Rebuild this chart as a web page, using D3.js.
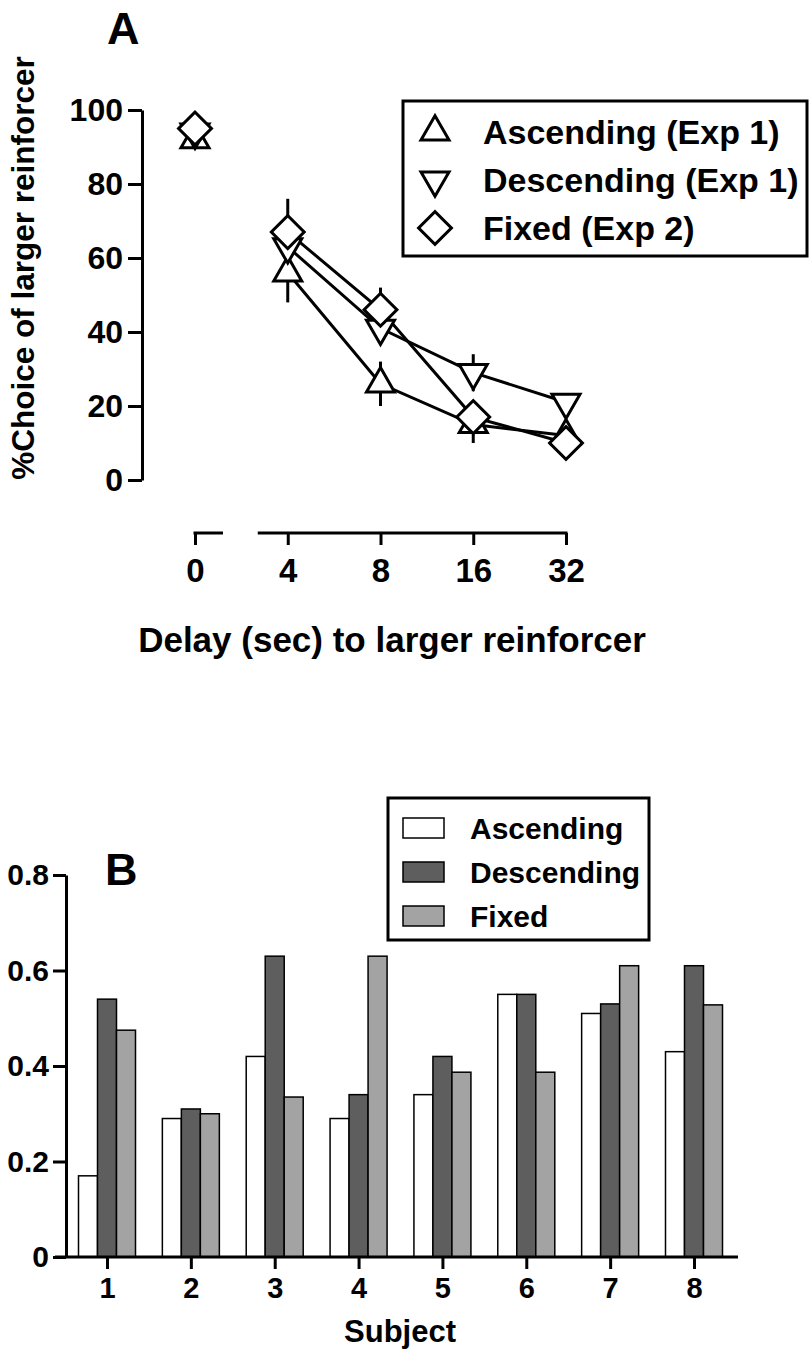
<!DOCTYPE html>
<html>
<head>
<meta charset="utf-8">
<script src="https://cdn.jsdelivr.net/npm/d3@7"></script>
<style>
  body { margin: 0; background: #fff; }
  svg text { font-family: "Liberation Sans", Arial, sans-serif; font-weight: bold; fill: #000; }
</style>
</head>
<body>
<div id="chart"></div>
<script>
// Panel A data
var delays = ["0", "4", "8", "16", "32"];
var ascMean = [92, 56, 26, 15, 12];
var ascErr = [2, 8, 6, 5, 2];
var descMean = [94, 63, 41, 29, 21];
var descErr = [2, 6, 4, 5, 2];
var fixMean = [95, 67, 46, 17, 10];
var fixErr = [1, 9, 6, 3, 1];
var yTicksA = [0, 20, 40, 60, 80, 100];
var seriesA = ["Ascending (Exp 1)", "Descending (Exp 1)", "Fixed (Exp 2)"];

// Panel B data
var subjects = ["1", "2", "3", "4", "5", "6", "7", "8"];
var ascending = [0.17, 0.29, 0.42, 0.29, 0.34, 0.55, 0.51, 0.43];
var descending = [0.54, 0.31, 0.63, 0.34, 0.42, 0.55, 0.53, 0.61];
var fixed = [0.475, 0.30, 0.335, 0.63, 0.387, 0.387, 0.61, 0.528];
var yTicksB = [0, 0.2, 0.4, 0.6, 0.8];
var seriesB = ["Ascending", "Descending", "Fixed"];

var w = 809;
var h = 1351;

var svg = d3.select("#chart")
	.append("svg")
	.attr("width", w)
	.attr("height", h);

//==================== Panel A ====================
var xA = d3.scalePoint().domain(delays).range([195, 566]);
var yA = d3.scaleLinear().domain([0, 100]).range([480, 110]);

var gA = svg.append("g");

// y axis
var yAxisA = gA.append("g")
	.attr("transform", "translate(142,0)")
	.call(d3.axisLeft(yA).tickValues(yTicksA).tickSize(14).tickSizeOuter(0).tickPadding(5));
yAxisA.select(".domain").attr("stroke-width", 3);
yAxisA.selectAll(".tick line").attr("stroke-width", 3);
yAxisA.selectAll(".tick text").style("font-size", "32px");

// x axis (broken)
var xAxisA = gA.append("g")
	.attr("transform", "translate(0,533)")
	.call(d3.axisBottom(xA).tickSize(12).tickPadding(14));
xAxisA.select(".domain").remove();
xAxisA.selectAll(".tick line").attr("stroke-width", 3);
xAxisA.selectAll(".tick text").style("font-size", "33px");
gA.append("line")
	.attr("x1", xA("0") - 1.5).attr("x2", xA("0") + 28)
	.attr("y1", 533).attr("y2", 533)
	.attr("stroke", "#000").attr("stroke-width", 3);
gA.append("line")
	.attr("x1", xA("4") - 30).attr("x2", xA("32") + 1.5)
	.attr("y1", 533).attr("y2", 533)
	.attr("stroke", "#000").attr("stroke-width", 3);

// axis labels
gA.append("text")
	.attr("transform", "translate(34,268) rotate(-90)")
	.attr("text-anchor", "middle")
	.style("font-size", "31.5px")
	.text("%Choice of larger reinforcer");
gA.append("text")
	.attr("x", 392).attr("y", 652)
	.attr("text-anchor", "middle")
	.style("font-size", "35px")
	.text("Delay (sec) to larger reinforcer");
gA.append("text")
	.attr("x", 107).attr("y", 44)
	.style("font-size", "45px")
	.text("A");

var triUp = d3.symbol().type(d3.symbolTriangle).size(340);
var diamond = d3.symbol().type(d3.symbolSquare).size(540);

var dataA = [
	{ mean: ascMean, err: ascErr, shape: "up" },
	{ mean: descMean, err: descErr, shape: "down" },
	{ mean: fixMean, err: fixErr, shape: "diamond" }
];

function markerPath(shape) {
	return shape == "diamond" ? diamond() : triUp();
}
function markerRot(shape) {
	if (shape == "down") return " rotate(180)";
	if (shape == "diamond") return " rotate(45)";
	return "";
}

var line = d3.line()
	.x(function (d) { return xA(d.x); })
	.y(function (d) { return yA(d.y); });

// connecting lines (delay 4 to 32 only)
dataA.forEach(function (s) {
	var pts = delays.slice(1).map(function (d, i) {
		return { x: d, y: s.mean[i + 1] };
	});
	gA.append("path")
		.attr("d", line(pts))
		.attr("fill", "none")
		.attr("stroke", "#000")
		.attr("stroke-width", 3);
});

// error bars + markers
dataA.forEach(function (s) {
	var g = gA.append("g");
	g.selectAll("line.err")
		.data(delays)
		.enter()
		.append("line")
		.attr("class", "err")
		.attr("x1", function (d) { return xA(d); })
		.attr("x2", function (d) { return xA(d); })
		.attr("y1", function (d, i) { return yA(s.mean[i] - s.err[i]); })
		.attr("y2", function (d, i) { return yA(s.mean[i] + s.err[i]); })
		.attr("stroke", "#000")
		.attr("stroke-width", 3);
});
dataA.forEach(function (s) {
	gA.append("g").selectAll("path")
		.data(delays)
		.enter()
		.append("path")
		.attr("d", markerPath(s.shape))
		.attr("transform", function (d, i) {
			return "translate(" + xA(d) + "," + yA(s.mean[i]) + ")" + markerRot(s.shape);
		})
		.attr("fill", "#fff")
		.attr("stroke", "#000")
		.attr("stroke-width", 3);
});

// legend A
var legA = gA.append("g");
legA.append("rect")
	.attr("x", 403).attr("y", 101)
	.attr("width", 404).attr("height", 155)
	.attr("fill", "#fff").attr("stroke", "#000").attr("stroke-width", 3);
var legRowsA = legA.selectAll("g.row")
	.data(dataA)
	.enter()
	.append("g")
	.attr("class", "row")
	.attr("transform", function (d, i) { return "translate(0," + (132 + i * 48) + ")"; });
legRowsA.append("path")
	.attr("d", function (d) { return markerPath(d.shape); })
	.attr("transform", function (d) { return "translate(435,0)" + markerRot(d.shape); })
	.attr("fill", "#fff")
	.attr("stroke", "#000")
	.attr("stroke-width", 3);
legRowsA.append("text")
	.attr("x", 483)
	.attr("dy", "0.36em")
	.style("font-size", "34px")
	.text(function (d, i) { return seriesA[i]; });

//==================== Panel B ====================
var xB = d3.scalePoint().domain(subjects).range([107, 694]);
var xSub = d3.scaleBand().domain(seriesB).range([-28.5, 28.5]);
var yB = d3.scaleLinear().domain([0, 0.8]).range([1257, 875]);
var colorB = d3.scaleOrdinal().domain(seriesB).range(["#ffffff", "#5e5e5e", "#a3a3a3"]);
var valuesB = [ascending, descending, fixed];

var gB = svg.append("g");

// bars
var groups = gB.selectAll("g.subj")
	.data(subjects)
	.enter()
	.append("g")
	.attr("class", "subj")
	.attr("transform", function (d) { return "translate(" + xB(d) + ",0)"; });
groups.selectAll("rect")
	.data(function (d, i) {
		return seriesB.map(function (s, j) { return { key: s, value: valuesB[j][i] }; });
	})
	.enter()
	.append("rect")
	.attr("x", function (d) { return xSub(d.key); })
	.attr("width", xSub.bandwidth())
	.attr("y", function (d) { return yB(d.value); })
	.attr("height", function (d) { return yB(0) - yB(d.value); })
	.attr("fill", function (d) { return colorB(d.key); })
	.attr("stroke", "#000")
	.attr("stroke-width", 1.5);

// y axis
var yAxisB = gB.append("g")
	.attr("transform", "translate(66,0)")
	.call(d3.axisLeft(yB).tickValues(yTicksB).tickSize(13).tickSizeOuter(0).tickPadding(4)
		.tickFormat(function (d) { return d == 0 ? "0" : d3.format(".1f")(d); }));
yAxisB.select(".domain").attr("stroke-width", 3);
yAxisB.selectAll(".tick line").attr("stroke-width", 3);
yAxisB.selectAll(".tick text").style("font-size", "30px");

// x axis
var xAxisB = gB.append("g")
	.attr("transform", "translate(0,1257)")
	.call(d3.axisBottom(xB).tickSize(12).tickPadding(8));
xAxisB.select(".domain").remove();
xAxisB.selectAll(".tick line").attr("stroke-width", 3);
xAxisB.selectAll(".tick text").style("font-size", "29px");
gB.append("line")
	.attr("x1", 55).attr("x2", 738)
	.attr("y1", 1257).attr("y2", 1257)
	.attr("stroke", "#000").attr("stroke-width", 3);

gB.append("text")
	.attr("x", 400).attr("y", 1342)
	.attr("text-anchor", "middle")
	.style("font-size", "31px")
	.text("Subject");
gB.append("text")
	.attr("x", 105).attr("y", 885)
	.style("font-size", "45px")
	.text("B");

// legend B
var legB = gB.append("g");
legB.append("rect")
	.attr("x", 388).attr("y", 798)
	.attr("width", 261).attr("height", 142)
	.attr("fill", "#fff").attr("stroke", "#000").attr("stroke-width", 3);
var legRowsB = legB.selectAll("g.row")
	.data(seriesB)
	.enter()
	.append("g")
	.attr("class", "row")
	.attr("transform", function (d, i) { return "translate(0," + (828 + i * 44) + ")"; });
legRowsB.append("rect")
	.attr("x", 403).attr("y", -10)
	.attr("width", 41).attr("height", 20)
	.attr("fill", function (d) { return colorB(d); })
	.attr("stroke", "#000")
	.attr("stroke-width", 1.5);
legRowsB.append("text")
	.attr("x", 470)
	.attr("dy", "0.36em")
	.style("font-size", "30px")
	.text(function (d) { return d; });
</script>
</body>
</html>
